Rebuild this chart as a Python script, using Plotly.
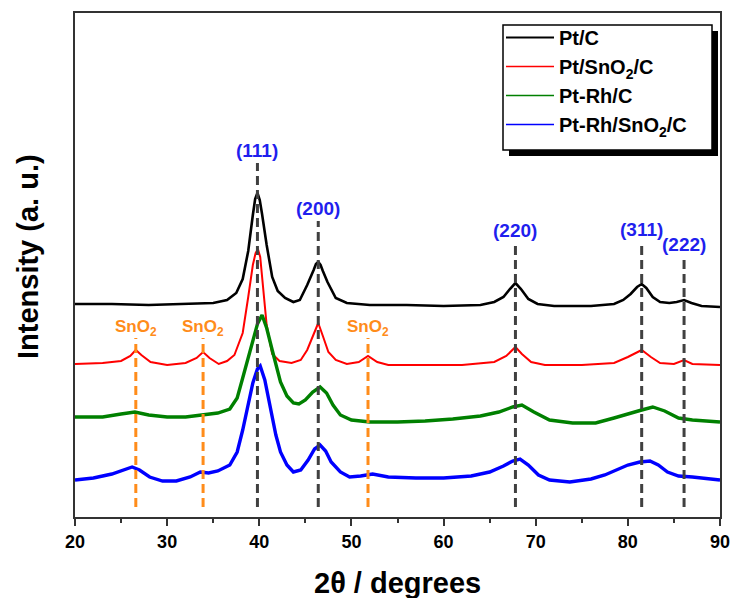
import plotly.graph_objects as go

# ---- data (intensity in arbitrary units) ----
x_ptc = [20, 24, 28, 32, 35, 36.5, 37.5, 38.2, 38.8, 39.3, 39.55, 39.8, 40.05, 40.3, 40.8, 41.4, 42, 42.8, 43.7,
         44.4, 45.2, 45.9, 46.15, 46.4, 46.65, 46.9, 47.4, 48.3, 49.5, 52, 56, 60, 64, 65.5, 66.5, 67.2, 67.8,
         68.4, 69.2, 70.2, 72, 76, 78.5, 79.5, 80.3, 81, 81.5, 82, 82.7, 83.5, 84.5, 85.3, 86.1, 86.9, 88, 90]
y_ptc = [213, 213, 212, 213, 214, 217, 224, 238, 266, 302, 318, 324, 317, 303, 272, 240, 226, 219, 215,
         217, 232, 247, 253, 255, 252, 246, 235, 219, 214, 212, 212, 211, 212, 215, 220, 228, 234,
         228, 218, 213, 211, 211, 213, 217, 223, 230, 233, 229, 220, 215, 214, 215, 217, 214, 211, 210]

x_ptsno2 = [20, 23, 25, 26, 26.6, 27.2, 28.2, 30, 32, 33.2, 33.9, 34.6, 35.6, 36.5, 37.3, 38.2, 38.8, 39.3,
            39.6, 39.85, 40.1, 40.4, 40.8, 41.4, 42.2, 43.5, 44.5, 45.2, 45.9, 46.4, 46.9, 47.5, 48.3, 49.5,
            50.8, 51.8, 52.8, 54, 58, 62, 65.5, 66.8, 67.8, 68.5, 69.5, 71, 75, 78.5, 80, 81.5, 82.5, 83.5,
            85, 86.1, 87, 90]
y_ptsno2 = [153, 154, 156, 161, 167, 162, 155, 152, 154, 159, 165, 159, 153, 156, 162, 184, 220, 252,
            264, 268, 260, 232, 192, 163, 156, 154, 157, 167, 183, 194, 181, 165, 157, 153,
            155, 161, 155, 152, 152, 152, 155, 161, 170, 163, 155, 152, 152, 154, 160, 167, 160, 154,
            153, 157, 153, 152]

x_ptrh = [20, 23, 25, 26.5, 28, 30, 32, 34, 35.5, 36.8, 37.6, 38.2, 38.8, 39.3, 39.8, 40.3, 40.8, 41.4,
          42.3, 43, 43.7, 44.3, 45, 45.8, 46.6, 47.3, 48, 48.8, 50, 52, 55, 58, 61, 64, 66, 67.5, 68.5,
          69.8, 71.5, 74, 76.5, 78.5, 80.2, 81.5, 82.7, 84, 85.5, 87, 90]
y_ptrh = [100, 100, 103, 105, 102, 100, 100, 102, 104, 108, 119, 139, 159, 177, 193, 202, 189, 167,
          135, 121, 114, 113, 117, 125, 130, 124, 112, 102, 97, 95, 95, 96, 98, 101, 105, 110, 112,
          105, 97, 94, 94, 99, 104, 107, 110, 106, 99, 97, 95]

x_ptrhsno2 = [20, 22, 24, 25.4, 26.2, 27, 28.1, 29.5, 31, 32.5, 33.6, 34.5, 35.5, 36.8, 37.6, 38.2, 38.8,
              39.3, 39.8, 40.1, 40.6, 41.2, 41.8, 42.3, 43, 43.7, 44.5, 45.3, 46, 46.6, 47.2, 47.8, 48.8,
              49.8, 51, 52.3, 54, 57, 60, 63, 65, 66.5, 67.5, 68.3, 69.2, 70.3, 71.5, 73.7, 76, 77.5,
              78.8, 80, 81.3, 82.4, 83.3, 84.3, 85.5, 87, 90]
y_ptrhsno2 = [37, 39, 43, 47, 50, 47, 40, 36, 36, 40, 45, 44, 46, 52, 65, 87, 112,
              134, 148, 151, 137, 109, 82, 65, 52, 45, 47, 57, 68, 72, 66, 55, 45,
              40, 41, 43, 40, 39, 39, 41, 45, 51, 56, 58, 52, 42, 37, 35, 38, 42,
              47, 52, 55, 56, 52, 45, 41, 40, 37]

series_names = ["Pt/C", "Pt/SnO<sub>2</sub>/C", "Pt-Rh/C", "Pt-Rh/SnO<sub>2</sub>/C"]
series_colors = ["#000000", "#ff0000", "#008000", "#0000ff"]
series_widths = [2.6, 2.0, 3.4, 3.4]
legend_widths = [2.0, 1.3, 1.3, 1.3]

hkl_labels = ["(111)", "(200)", "(220)", "(311)", "(222)"]
hkl_pos = [39.8, 46.4, 67.8, 81.5, 86.1]
hkl_label_y = [367, 309, 287, 288, 273]
hkl_line_top = [354, 296, 274, 272, 259]

sno2_pos = [26.6, 33.9, 51.8]
sno2_label_y = 189
sno2_line_top = 179
line_bottom = 10

xs = [x_ptc, x_ptsno2, x_ptrh, x_ptrhsno2]
ys = [y_ptc, y_ptsno2, y_ptrh, y_ptrhsno2]

FONT = "Liberation Sans, Arial, sans-serif"

# pixel -> paper helpers for layout placement
L, R, T, B = 75, 720, 13, 517
def px(xp):
    return (xp - L) / (R - L)
def py(yp):
    return (B - yp) / (B - T)

fig = go.Figure()
for i, (x, y, n, c, w) in enumerate(zip(xs, ys, series_names, series_colors, series_widths)):
    fig.add_trace(go.Scatter(x=x, y=y, mode="lines", name=n, legendgroup=str(i), showlegend=False,
                             line=dict(color=c, width=w, shape="linear")))
for i, (n, c, lw) in enumerate(zip(series_names, series_colors, legend_widths)):
    fig.add_trace(go.Scatter(x=[None], y=[None], mode="lines", name=n, legendgroup=str(i),
                             line=dict(color=c, width=lw)))

shapes = []
for p, top in zip(hkl_pos, hkl_line_top):
    shapes.append(dict(type="line", xref="x", yref="y", x0=p, x1=p, y0=line_bottom, y1=top,
                       line=dict(color="#404040", width=3, dash="9px,5px"), layer="above"))
for p in sno2_pos:
    shapes.append(dict(type="line", xref="x", yref="y", x0=p, x1=p, y0=line_bottom, y1=sno2_line_top,
                       line=dict(color="#ff8c1a", width=3, dash="9px,5px"), layer="above"))

# legend shadow and box
shapes.append(dict(type="rect", xref="paper", yref="paper",
                   x0=px(509), x1=px(718), y0=py(156), y1=py(31),
                   fillcolor="black", line=dict(width=0), layer="above"))
shapes.append(dict(type="rect", xref="paper", yref="paper",
                   x0=px(503), x1=px(712), y0=py(150), y1=py(25),
                   fillcolor="white", line=dict(width=1.5, color="black"), layer="above"))

annotations = []
for lab, p, ly in zip(hkl_labels, hkl_pos, hkl_label_y):
    annotations.append(dict(x=p, y=ly, xref="x", yref="y", text=lab, showarrow=False,
                            font=dict(family=FONT, size=19, color="#1f1fee", weight="bold"),
                            yanchor="middle"))
for p in sno2_pos:
    annotations.append(dict(x=p, y=sno2_label_y, xref="x", yref="y", text="SnO<sub>2</sub>",
                            showarrow=False,
                            font=dict(family=FONT, size=17, color="#ff8c1a", weight="bold"),
                            yanchor="middle"))
# axis titles
annotations.append(dict(x=px(397), y=py(583), xref="paper", yref="paper",
                        text="2θ / degrees", showarrow=False, xanchor="center", yanchor="middle",
                        font=dict(family=FONT, size=29, color="black", weight="bold")))
annotations.append(dict(x=px(28), y=py(257), xref="paper", yref="paper",
                        text="Intensity (a. u.)", showarrow=False, textangle=-90,
                        xanchor="center", yanchor="middle",
                        font=dict(family=FONT, size=29, color="black", weight="bold")))

fig.update_layout(
    width=734, height=598,
    margin=dict(l=L, r=734 - R, t=T, b=598 - B),
    paper_bgcolor="white", plot_bgcolor="white",
    font=dict(family=FONT, color="black"),
    shapes=shapes, annotations=annotations,
    legend=dict(x=px(501), y=py(18), xanchor="left", yanchor="top",
                bgcolor="rgba(0,0,0,0)", borderwidth=0,
                font=dict(family=FONT, size=20, color="black", weight="bold"),
                itemwidth=48, tracegroupgap=0),
    xaxis=dict(range=[20, 90], showgrid=False, zeroline=False, automargin=False,
               showline=True, linecolor="#333333", linewidth=2, mirror=True,
               ticks="outside", ticklen=7, tickwidth=1.5, tickcolor="#333333",
               tickvals=[20, 30, 40, 50, 60, 70, 80, 90],
               minor=dict(ticks="outside", ticklen=4, tickwidth=1.5, tickcolor="#333333",
                          tickvals=[25, 35, 45, 55, 65, 75, 85]),
               tickfont=dict(family=FONT, size=18, color="black", weight="bold")),
    yaxis=dict(range=[0, 504], showgrid=False, zeroline=False, showticklabels=False, automargin=False,
               showline=True, linecolor="#333333", linewidth=2, mirror=True, ticks=""),
)

fig.write_html("out.html")
